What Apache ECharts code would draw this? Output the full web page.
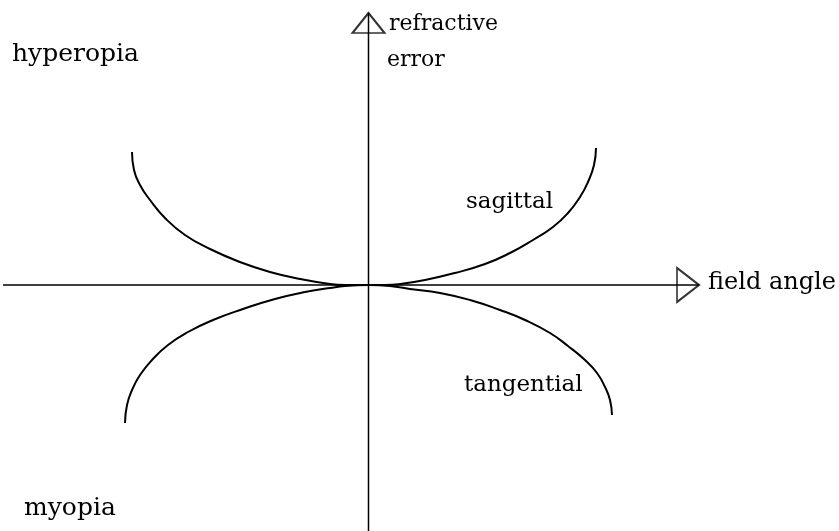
<!DOCTYPE html>
<html>
<head>
<meta charset="utf-8">
<script src="https://cdn.jsdelivr.net/npm/echarts@6/dist/echarts.min.js"></script>
<style>
  html, body { margin: 0; padding: 0; background: #fff; }
  #chart { width: 839px; height: 531px; }
</style>
</head>
<body>
<div id="chart"></div>
<script>
// field angle (x) vs refractive error (y), arbitrary units
var sagittalLeft = [[-23.7, 13.3], [-23.5, 11.5], [-22.9, 10.0], [-21.9, 8.5], [-20.4, 6.7], [-18.4, 5.0],
  [-15.9, 3.6], [-12.9, 2.3], [-9.9, 1.3], [-6.9, 0.6], [-3.9, 0.1], [-2.4, 0.0], [0, 0]];
var sagittalRight = [[22.7, 13.7], [22.5, 12.0], [21.9, 10.3], [21.1, 8.8], [19.9, 7.2], [18.4, 5.8],
  [16.4, 4.5], [14.1, 3.2], [11.6, 2.1], [8.6, 1.2], [5.6, 0.5], [3.1, 0.1], [1.6, 0.0], [0, 0]];
var tangentialLeft = [[-24.4, -13.8], [-24.2, -12.0], [-23.7, -10.5], [-22.9, -9.0], [-21.7, -7.5], [-20.1, -6.0],
  [-18.1, -4.7], [-15.6, -3.5], [-12.6, -2.4], [-9.4, -1.4], [-6.4, -0.7], [-3.9, -0.3], [-2.4, -0.1], [0, 0]];
var tangentialRight = [[24.3, -13.0], [24.1, -11.5], [23.6, -10.2], [22.8, -8.8], [21.6, -7.5], [19.9, -6.1],
  [18.1, -4.8], [15.6, -3.5], [13.1, -2.5], [10.1, -1.5], [7.1, -0.8], [4.1, -0.4], [2.1, -0.1], [0, 0]];

var fieldAngleAxis = [[-36.6, 0], [33.0, 0]];
var refractiveAxis = [[-0.05, 27.2], [-0.05, -24.6]];

var chart = echarts.init(document.getElementById('chart'));

function curve(name, data) {
  return {
    name: name,
    type: 'line',
    data: data,
    smooth: 0.5,
    showSymbol: false,
    silent: true,
    lineStyle: { color: '#000', width: 2 }
  };
}

var font = 'DejaVu Serif';
function label(text, x, y, size) {
  return {
    type: 'text',
    left: x,
    top: y,
    style: { text: text, fill: '#000', font: (size || 22) + 'px "' + font + '"' }
  };
}

chart.setOption({
  animation: false,
  backgroundColor: '#fff',
  grid: { left: 0, right: 0, top: 0, bottom: 0 },
  xAxis: { type: 'value', min: -36.9, max: 47.0, show: false },
  yAxis: { type: 'value', min: -24.6, max: 28.5, show: false },
  series: [
    {
      type: 'line', data: fieldAngleAxis, showSymbol: false, silent: true,
      lineStyle: { color: '#000', width: 1.5 }
    },
    {
      type: 'line', data: refractiveAxis, showSymbol: false, silent: true,
      lineStyle: { color: '#000', width: 1.5 }
    },
    curve('sagittal', sagittalLeft),
    curve('sagittal', sagittalRight),
    curve('tangential', tangentialLeft),
    curve('tangential', tangentialRight),
    {
      type: 'scatter', silent: true,
      data: [[31.9, 0]],
      symbol: 'triangle', symbolSize: [34, 22], symbolRotate: -90,
      itemStyle: { color: 'rgba(0,0,0,0)', borderColor: '#000', borderWidth: 2 }
    },
    {
      type: 'scatter', silent: true,
      data: [[-0.05, 26.2]],
      symbol: 'triangle', symbolSize: [32, 20],
      itemStyle: { color: 'rgba(0,0,0,0)', borderColor: '#000', borderWidth: 2 }
    }
  ],
  graphic: [
    label('hyperopia', 12, 42, 25),
    label('myopia', 24, 496, 25),
    label('refractive', 389, 13),
    label('error', 387, 49),
    label('field angle', 708, 271, 24),
    label('sagittal', 466, 191, 23),
    label('tangential', 464, 374, 23)
  ]
});
</script>
</body>
</html>
